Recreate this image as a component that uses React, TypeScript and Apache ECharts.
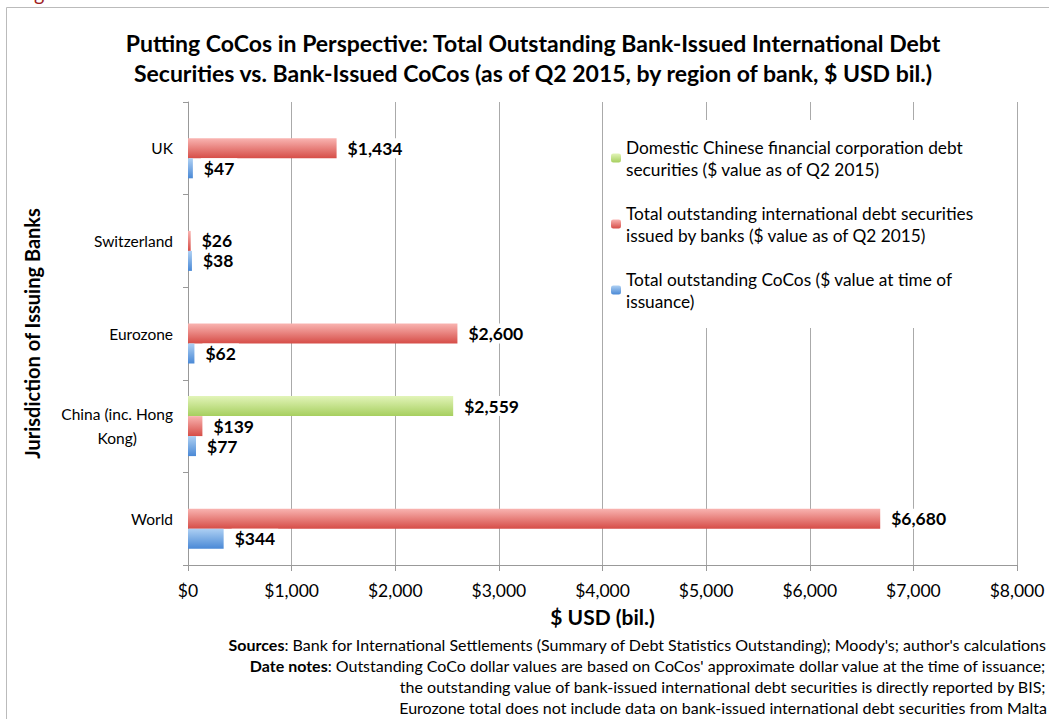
import React, { useEffect, useRef } from "react";
import * as echarts from "echarts";

const categories = ["World", "China (inc. Hong\nKong)", "Eurozone", "Switzerland", "UK"];
const domesticChinese = [null, 2559, null, null, null];
const intlDebt = [6680, 139, 2600, 26, 1434];
const cocos = [344, 77, 62, 38, 47];
const xTicks = [0, 1000, 2000, 3000, 4000, 5000, 6000, 7000, 8000];

const seriesNames = [
  "Domestic Chinese financial corporation debt securities ($ value as of Q2 2015)",
  "Total outstanding international debt securities issued by banks ($ value as of Q2 2015)",
  "Total outstanding CoCos ($ value at time of issuance)",
];
const legendLines: Record<string, string> = {
  [seriesNames[0]]: "Domestic Chinese financial corporation debt\nsecurities ($ value as of Q2 2015)",
  [seriesNames[1]]: "Total outstanding international debt securities\nissued by banks ($ value as of Q2 2015)",
  [seriesNames[2]]: "Total outstanding CoCos ($ value at time of\nissuance)",
};

const titleText =
  "Putting CoCos in Perspective: Total Outstanding Bank-Issued International Debt\nSecurities vs. Bank-Issued CoCos (as of Q2 2015, by region of bank, $ USD bil.)";
const sourceLines = [
  "{b|Sources}: Bank for International Settlements (Summary of Debt Statistics Outstanding); Moody's; author's calculations",
  "{b|Date notes}: Outstanding CoCo dollar values are based on CoCos' approximate dollar value at the time of issuance;",
  "the outstanding value of bank-issued international debt securities is directly reported by BIS;",
  "Eurozone total does not include data on bank-issued international debt securities from Malta",
];

const FONT = "Lato";

const fmtUSD = (v: number) => "$" + Math.round(v).toLocaleString("en-US");

const grad = (top: string, bottom: string) =>
  new echarts.graphic.LinearGradient(0, 0, 0, 1, [
    { offset: 0, color: top },
    { offset: 1, color: bottom },
  ]);

export default function App() {
  const ref = useRef<HTMLDivElement>(null);
  useEffect(() => {
    if (!ref.current) return;
    const chart = echarts.init(ref.current, undefined, { renderer: "svg" });
    const label = {
      show: true,
      position: "right" as const,
      distance: 8,
      fontFamily: FONT,
      fontWeight: "bold" as const,
      fontSize: 17.5,
      color: "#000",
      backgroundColor: "#fff",
      padding: [1, 3],
      formatter: (p: any) => fmtUSD(p.value),
    };
    const mk = (name: string, data: (number | null)[], top: string, bottom: string) => ({
      name,
      type: "bar" as const,
      data: data.map((v) => (v == null ? "-" : v)),
      barWidth: 20,
      barGap: "0%",
      itemStyle: { color: grad(top, bottom) },
      label,
    });
    const sourceTexts = sourceLines.map((t, i) => ({
      type: "text",
      right: 2,
      top: 636 + i * 21.3,
      style: {
        text: t,
        font: `16px ${FONT}`,
        fill: "#000",
        rich: {
          b: { fontFamily: FONT, fontSize: 16, fontWeight: "bold", fill: "#000" },
        },
      },
    }));
    chart.setOption({
      animation: false,
      backgroundColor: "#fff",
      textStyle: { fontFamily: FONT },
      title: {
        text: titleText,
        left: 533,
        top: 28,
        padding: 0,
        textAlign: "center",
        textStyle: {
          fontFamily: FONT,
          fontWeight: "bold",
          fontSize: 23,
          lineHeight: 30,
          color: "#000",
        },
      },
      legend: {
        orient: "vertical",
        left: 606,
        top: 120,
        padding: 5,
        itemGap: 0,
        itemWidth: 10,
        itemHeight: 9,
        backgroundColor: "#fff",
        data: seriesNames,
        formatter: (name: string) => legendLines[name],
        textStyle: {
          fontFamily: FONT,
          fontSize: 17.3,
          lineHeight: 22,
          color: "#000",
          padding: [22, 0, 0, 0],
        },
      },
      grid: { left: 188, right: 32, top: 102, bottom: 154 },
      xAxis: {
        type: "value",
        min: xTicks[0],
        max: xTicks[xTicks.length - 1],
        interval: 1000,
        name: "$ USD (bil.)",
        nameLocation: "middle",
        nameGap: 41,
        nameTextStyle: { fontFamily: FONT, fontWeight: "bold", fontSize: 21, color: "#000" },
        axisLine: { show: true, lineStyle: { color: "#999" } },
        axisTick: { show: true, length: 6, lineStyle: { color: "#999" } },
        axisLabel: {
          margin: 16,
          fontFamily: FONT,
          fontSize: 17.5,
          color: "#000",
          formatter: (v: number) => fmtUSD(v),
        },
        splitLine: { show: true, lineStyle: { color: "#aaa" } },
      },
      yAxis: {
        type: "category",
        data: categories,
        name: "Jurisdiction of Issuing Banks",
        nameLocation: "middle",
        nameGap: 146,
        nameRotate: 90,
        nameTextStyle: { fontFamily: FONT, fontWeight: "bold", fontSize: 20, color: "#000" },
        axisLine: { show: true, lineStyle: { color: "#999" } },
        axisTick: { show: true, length: 5, lineStyle: { color: "#999" } },
        axisLabel: {
          margin: 15,
          formatter: (v: string) =>
            v
              .split("\n")
              .map((l) => `{c|${l}}`)
              .join("\n"),
          rich: {
            c: { align: "center", fontFamily: FONT, fontSize: 15.5, lineHeight: 24, color: "#000" },
          },
        },
      },
      series: [
        mk(seriesNames[0], domesticChinese, "#e2f4b8", "#a6cf5e"),
        mk(seriesNames[1], intlDebt, "#f9b4b1", "#d64d47"),
        mk(seriesNames[2], cocos, "#aed0f3", "#4a89d6"),
      ],
      graphic: [
        {
          type: "rect",
          silent: true,
          shape: { x: 6.5, y: 7.5, width: 1200, height: 900 },
          style: { fill: "none", stroke: "#bbb", lineWidth: 1 },
          z: -1,
        },
        {
          type: "text",
          x: 34,
          y: -17,
          style: { text: "g", font: `20px ${FONT}`, fill: "#9e1b22" },
        },
        ...sourceTexts,
      ],
    });
    return () => chart.dispose();
  }, []);
  return (
    <div
      ref={ref}
      style={{ position: "absolute", left: 0, top: 0, width: 1049, height: 719 }}
    />
  );
}
